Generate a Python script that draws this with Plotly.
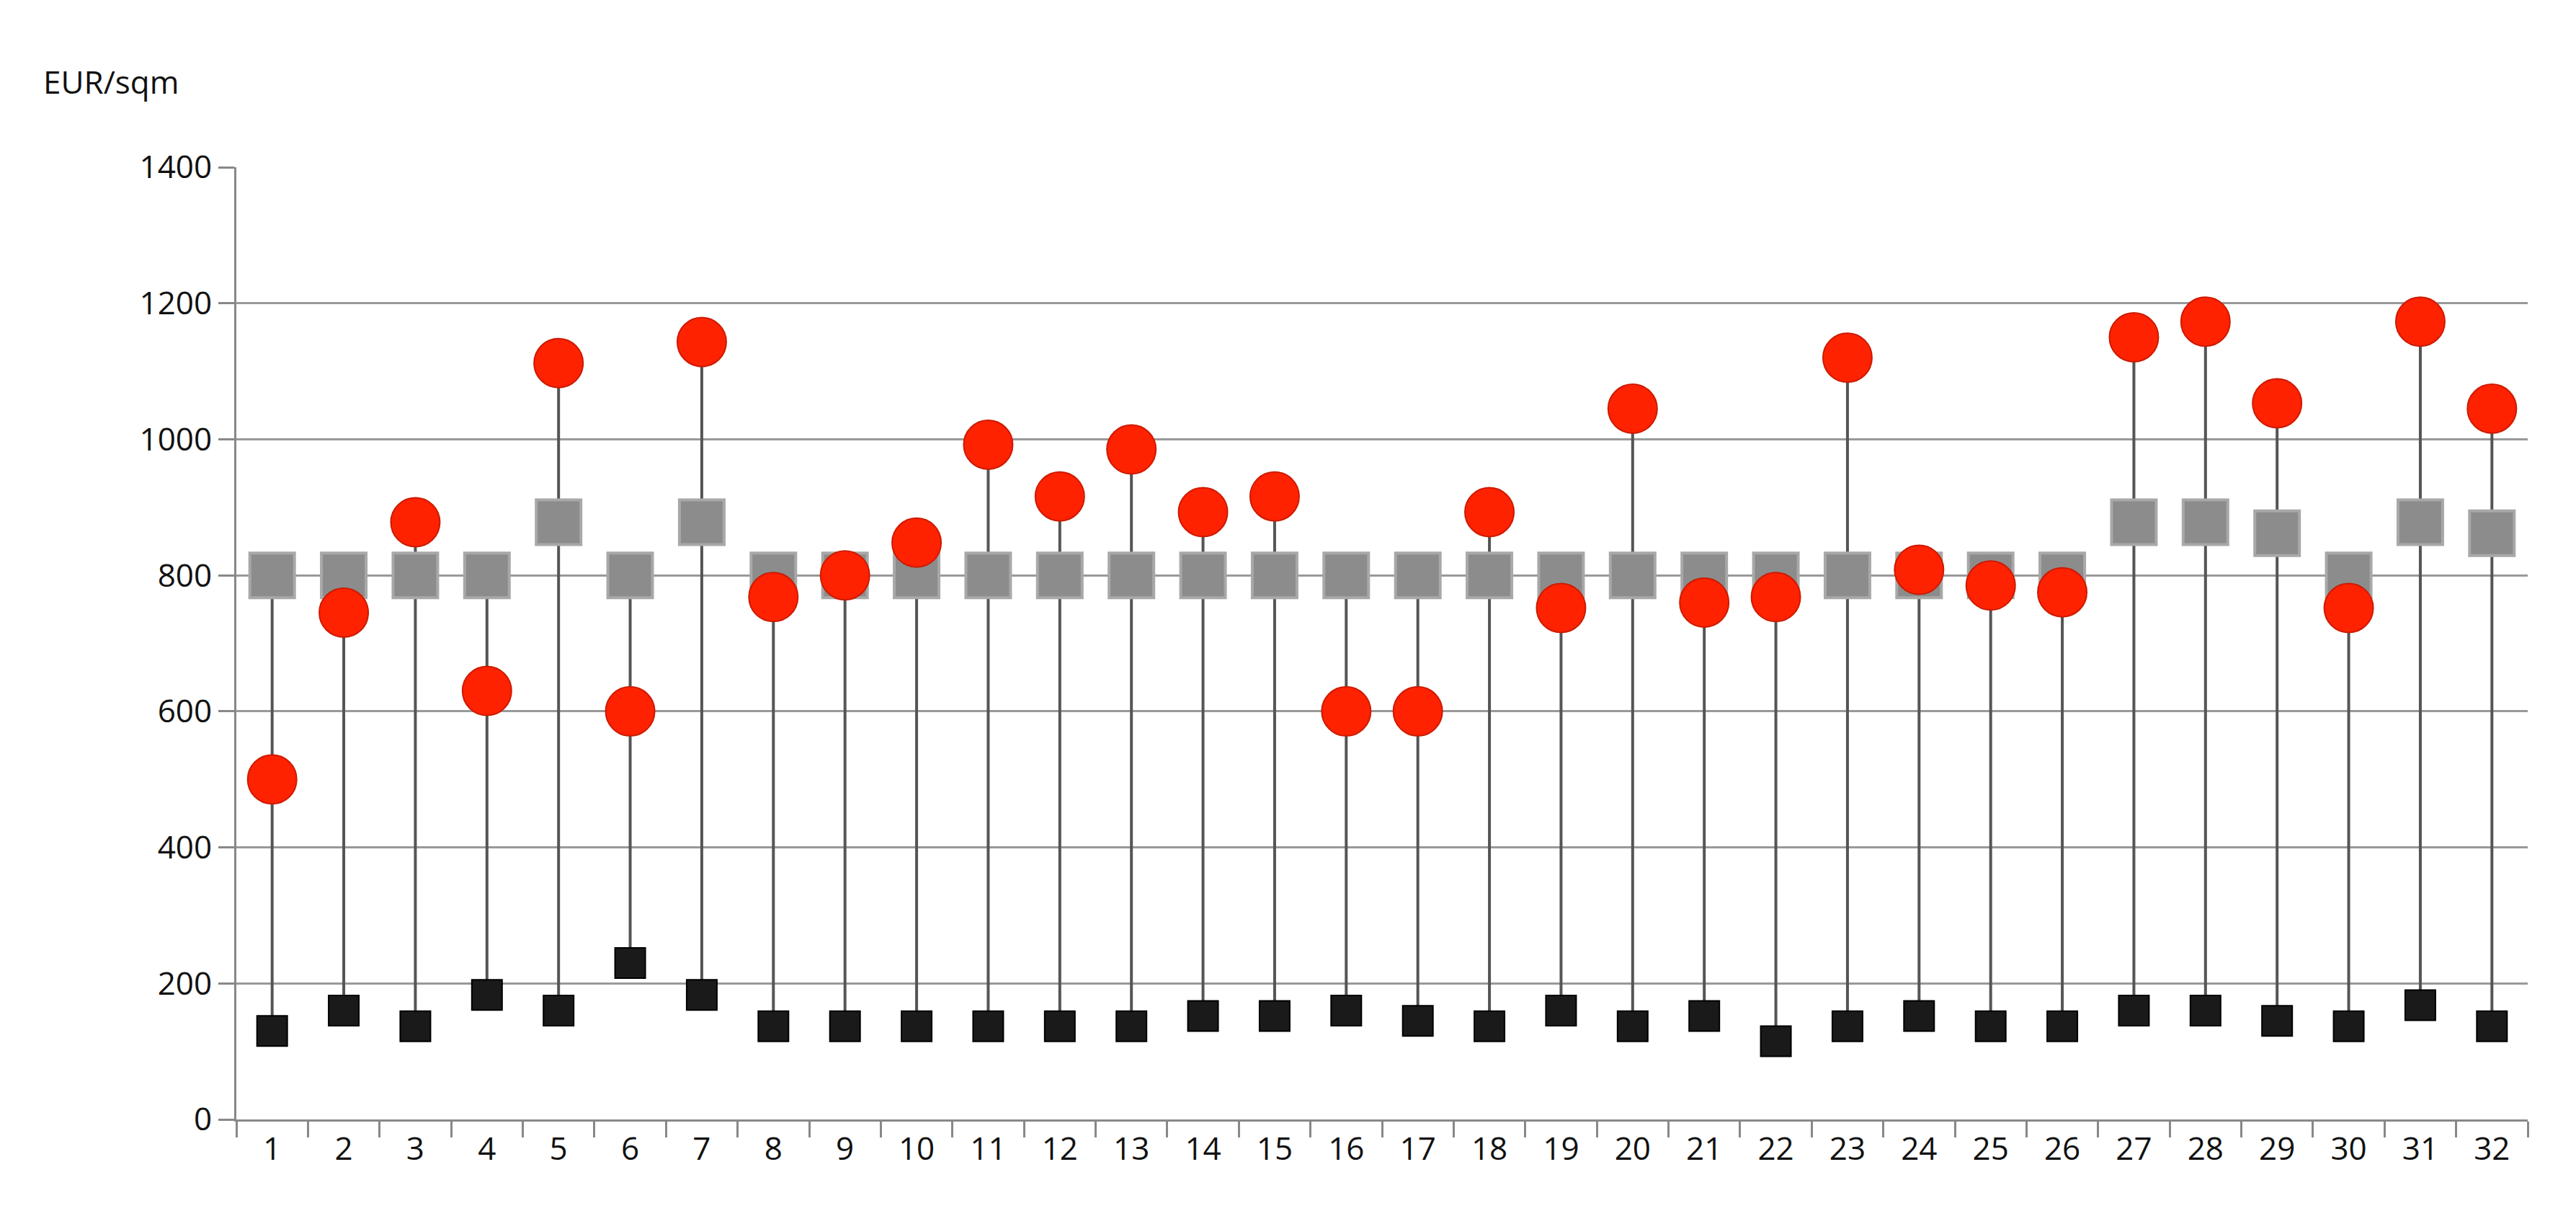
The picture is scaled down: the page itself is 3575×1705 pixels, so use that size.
import plotly.graph_objects as go

cats = [str(i) for i in range(1, 33)]
red = [500,745,878,630,1112,600,1143,768,800,848,992,916,985,893,916,600,600,893,752,1045,760,768,1120,808,785,775,1150,1173,1053,752,1173,1045]
gray = [800,800,800,800,878,800,878,800,800,800,800,800,800,800,800,800,800,800,800,800,800,800,800,800,800,800,878,878,862,800,878,862]
black = [130,160,137,183,160,230,183,137,137,137,137,137,137,152,152,160,145,137,160,137,152,115,137,152,137,137,160,160,145,137,168,137]

lx, ly = [], []
for c, r, g, b in zip(cats, red, gray, black):
    lx += [c, c, None]
    ly += [b, max(r, g), None]

fig = go.Figure()
fig.add_trace(go.Scatter(x=lx, y=ly, mode="lines", line=dict(color="#555555", width=4), hoverinfo="skip"))
fig.add_trace(go.Scatter(x=cats, y=gray, mode="markers",
    marker=dict(symbol="square", size=62, color="#8c8c8c", line=dict(color="#a8a8a8", width=4))))
fig.add_trace(go.Scatter(x=cats, y=red, mode="markers",
    marker=dict(symbol="circle", size=68, color="#ff2200", line=dict(color="#cc1a00", width=2))))
fig.add_trace(go.Scatter(x=cats, y=black, mode="markers",
    marker=dict(symbol="square", size=42, color="#1a1a1a", line=dict(color="#000", width=2))))

fig.update_layout(
    width=3575, height=1705, showlegend=False,
    plot_bgcolor="white", paper_bgcolor="white",
    margin=dict(l=320, r=75, t=224, b=160),
    font=dict(family="Open Sans", size=44, color="#111"),
    xaxis=dict(type="category", tickson="boundaries", ticks="outside", ticklen=22,
               tickcolor="#888", tickwidth=3, showline=True, linecolor="#888", linewidth=3,
               showgrid=False, range=[-0.5, 31.5]),
    yaxis=dict(range=[0, 1400], dtick=200, showgrid=True, gridcolor="#999", gridwidth=3,
               ticks="outside", ticklen=22, tickcolor="#888", tickwidth=3,
               showline=True, linecolor="#888", linewidth=3, zeroline=False),
    annotations=[dict(text="EUR/sqm", xref="paper", yref="paper", x=-0.085, y=1.09,
                      xanchor="left", yanchor="middle", showarrow=False, font=dict(size=44))],
)
fig.write_html("out.html")
